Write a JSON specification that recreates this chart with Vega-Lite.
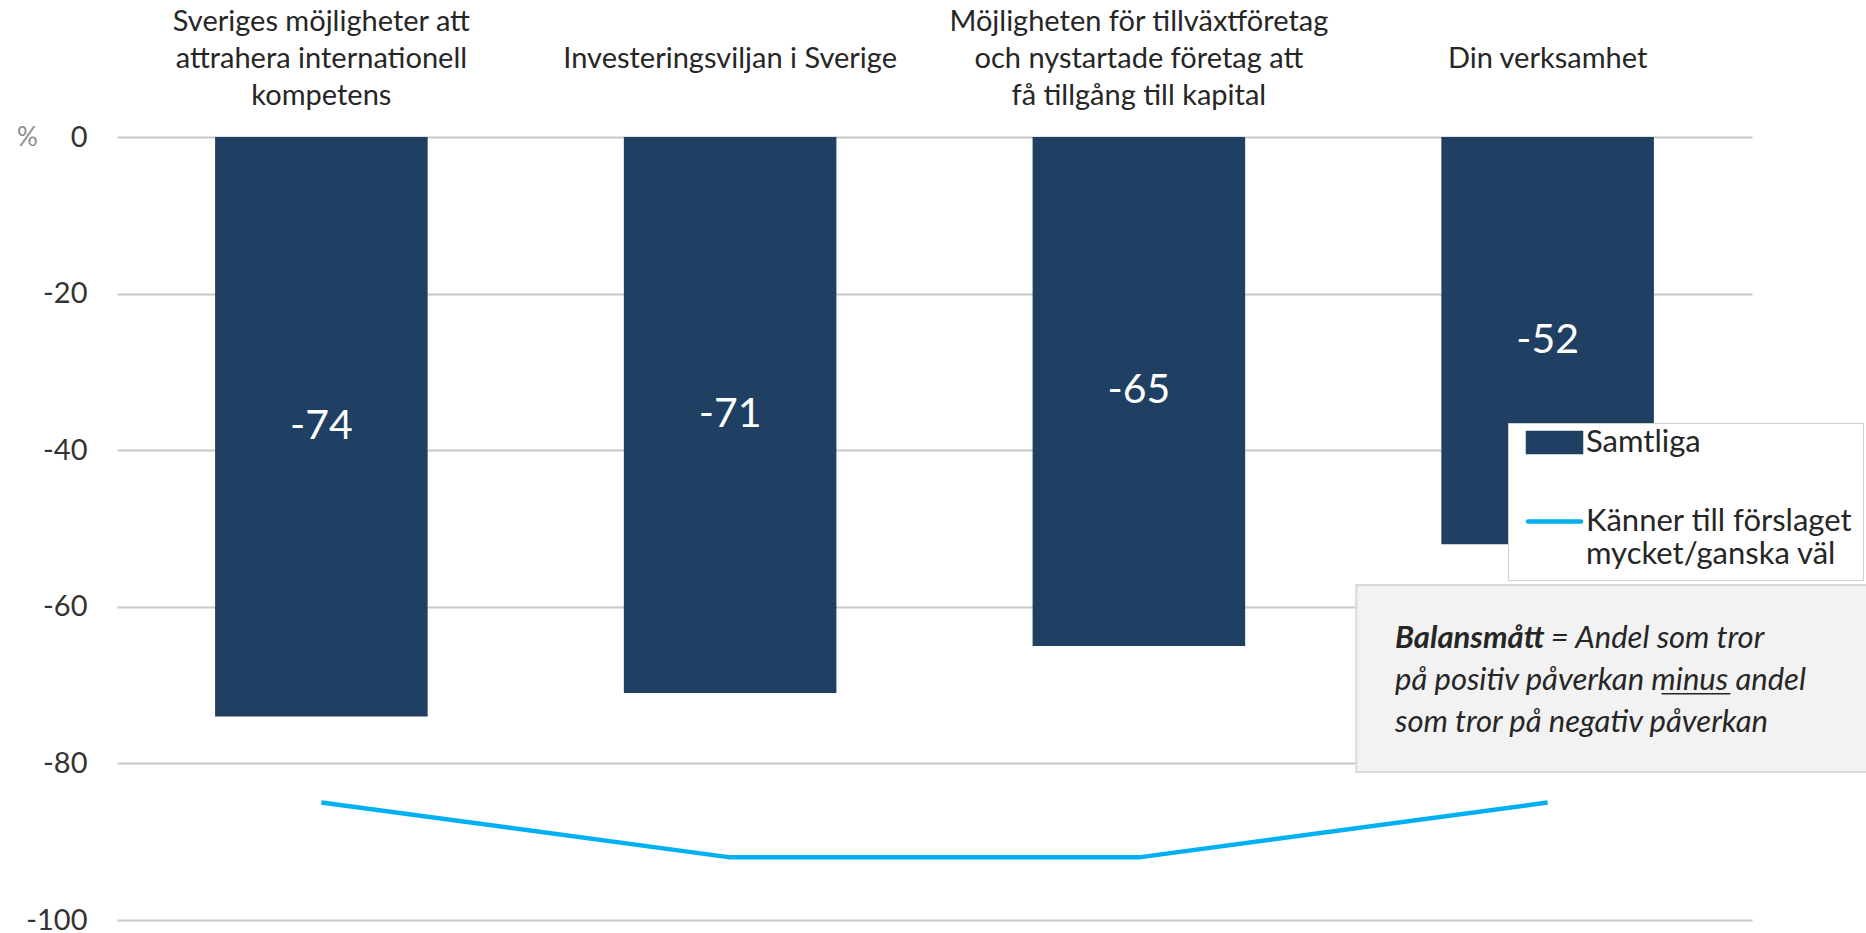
{
  "$schema": "https://vega.github.io/schema/vega-lite/v6.json",
  "width": 1635,
  "height": 783,
  "autosize": {"type": "none"},
  "padding": {"left": 117, "top": 137, "right": 114, "bottom": 13},
  "background": "white",
  "config": {"view": {"stroke": null}, "font": "Lato"},
  "data": {"values": [
    {"kategori": "Sveriges möjligheter att|attrahera internationell|kompetens", "Samtliga": -74, "Kanner": -85},
    {"kategori": "Investeringsviljan i Sverige", "Samtliga": -71, "Kanner": -92},
    {"kategori": "Möjligheten för tillväxtföretag|och nystartade företag att|få tillgång till kapital", "Samtliga": -65, "Kanner": -92},
    {"kategori": "Din verksamhet", "Samtliga": -52, "Kanner": -85}
  ]},
  "encoding": {
    "x": {
      "field": "kategori",
      "type": "nominal",
      "sort": null,
      "scale": {
        "domain": ["Sveriges möjligheter att|attrahera internationell|kompetens", "Investeringsviljan i Sverige", "Möjligheten för tillväxtföretag|och nystartade företag att|få tillgång till kapital", "Din verksamhet"],
        "paddingInner": 0.48,
        "paddingOuter": 0.24
      },
      "axis": {
        "orient": "top",
        "title": null,
        "labelAngle": 0,
        "labelExpr": "length(split(datum.value, '|')) == 1 ? ['', '', datum.value] : split(datum.value, '|')",
        "labelFont": "Lato",
        "labelFontSize": 29,
        "labelLineHeight": 37,
        "labelColor": "#262626",
        "labelPadding": 107,
        "labelBaseline": "alphabetic",
        "labelLimit": 0,
        "domain": false,
        "ticks": false,
        "tickSize": 0,
        "grid": false
      }
    }
  },
  "layer": [
    {
      "mark": {"type": "bar"},
      "encoding": {
        "y": {
          "field": "Samtliga",
          "type": "quantitative",
          "title": "%",
          "scale": {"domain": [-100, 0], "nice": false, "zero": false},
          "axis": {
            "values": [0, -20, -40, -60, -80, -100],
            "labelExpr": "replace(datum.label, '−', '-')",
            "grid": true,
            "gridColor": "#C8C8C8",
            "gridWidth": 2,
            "domain": false,
            "ticks": false,
            "tickSize": 0,
            "labelPadding": 30,
            "labelFont": "Lato",
            "labelFontSize": 29,
            "labelColor": "#333333",
            "labelFlush": false,
            "labelOverlap": false,
            "titleAngle": 0,
            "titleX": -90,
            "titleY": 0,
            "titleAlign": "center",
            "titleBaseline": "middle",
            "titleColor": "#8C8C8C",
            "titleFont": "Lato",
            "titleFontSize": 26,
            "titleFontWeight": "normal"
          }
        },
        "color": {
          "datum": "Samtliga",
          "type": "nominal",
          "scale": {
            "domain": ["Samtliga", "Känner till förslaget mycket/ganska väl"],
            "range": ["#1F3F63", "#00B0F0"]
          },
          "legend": {
            "orient": "none",
            "legendX": 1391,
            "legendY": 286,
            "title": null,
            "direction": "vertical",
            "fillColor": "white",
            "strokeColor": "#D0D0D0",
            "padding": 10,
            "symbolSize": 400,
            "labelFont": "Lato",
            "labelFontSize": 31,
            "labelColor": "#262626",
            "labelLimit": 0,
            "rowPadding": 43,
            "labelBaseline": "middle",
            "labelExpr": "datum.value == 'Samtliga' ? 'Samtliga' : ['Känner till förslaget', 'mycket/ganska väl']",
            "encode": {
              "symbols": {"update": {
                "x": {"value": 36.5},
                "y": {"value": 9.5},
                "shape": {"signal": "datum.value == 'Samtliga' ? 'M-1,-0.36H1V0.36H-1Z' : 'M-1,0H1'"},
                "fill": {"signal": "datum.value == 'Samtliga' ? '#1F3F63' : 'transparent'"},
                "stroke": {"signal": "datum.value == 'Samtliga' ? 'transparent' : '#00B0F0'"},
                "strokeWidth": {"value": 4.5},
                "strokeCap": {"value": "round"},
                "size": {"value": 2809},
                "opacity": {"value": 1}
              }},
              "labels": {"update": {
                "x": {"value": 68},
                "y": {"value": 9.5},
                "lineHeight": {"value": 33}
              }}
            }
          }
        }
      }
    },
    {
      "mark": {"type": "line", "strokeWidth": 4.5},
      "encoding": {
        "y": {"field": "Kanner", "type": "quantitative", "title": "%"},
        "color": {"datum": "Känner till förslaget mycket/ganska väl", "type": "nominal"}
      }
    },
    {
      "transform": [{"calculate": "datum.Samtliga / 2", "as": "mitt"}],
      "mark": {"type": "text", "color": "white", "font": "Lato", "fontSize": 41, "baseline": "middle"},
      "encoding": {
        "y": {"field": "mitt", "type": "quantitative", "title": "%"},
        "text": {"field": "Samtliga", "type": "nominal"}
      }
    },
    {
      "data": {"values": [{}]},
      "mark": {"type": "rect", "fill": "#F2F2F2", "stroke": "#D9D9D9", "strokeWidth": 2},
      "encoding": {
        "x": {"datum": "Din verksamhet", "bandPosition": -0.4},
        "x2": {"datum": "Din verksamhet", "bandPosition": 2.2},
        "y": {"datum": -57.2, "type": "quantitative", "title": "%"},
        "y2": {"datum": -81.1}
      }
    },
    {
      "data": {"values": [{}]},
      "mark": {"type": "text", "align": "left", "baseline": "alphabetic", "font": "Lato", "fontSize": 31, "fontStyle": "italic", "fontWeight": "bold", "color": "#262626", "text": "Balansmått"},
      "encoding": {
        "x": {"datum": "Din verksamhet", "bandPosition": -0.218},
        "y": {"datum": -65.3, "type": "quantitative", "title": "%"}
      }
    },
    {
      "data": {"values": [{}]},
      "mark": {"type": "text", "align": "left", "baseline": "alphabetic", "font": "Lato", "fontSize": 31, "fontStyle": "italic", "color": "#262626", "text": "= Andel som tror"},
      "encoding": {
        "x": {"datum": "Din verksamhet", "bandPosition": 0.515},
        "y": {"datum": -65.3, "type": "quantitative", "title": "%"}
      }
    },
    {
      "data": {"values": [{}]},
      "mark": {"type": "text", "align": "left", "baseline": "alphabetic", "font": "Lato", "fontSize": 31, "fontStyle": "italic", "color": "#262626", "text": "på positiv påverkan minus andel"},
      "encoding": {
        "x": {"datum": "Din verksamhet", "bandPosition": -0.218},
        "y": {"datum": -70.6, "type": "quantitative", "title": "%"}
      }
    },
    {
      "data": {"values": [{}]},
      "mark": {"type": "text", "align": "left", "baseline": "alphabetic", "font": "Lato", "fontSize": 31, "fontStyle": "italic", "color": "#262626", "text": "som tror på negativ påverkan"},
      "encoding": {
        "x": {"datum": "Din verksamhet", "bandPosition": -0.218},
        "y": {"datum": -76.0, "type": "quantitative", "title": "%"}
      }
    },
    {
      "data": {"values": [{}]},
      "mark": {"type": "rule", "color": "#262626", "strokeWidth": 1.5},
      "encoding": {
        "x": {"datum": "Din verksamhet", "bandPosition": 1.036},
        "x2": {"datum": "Din verksamhet", "bandPosition": 1.36},
        "y": {"datum": -71.1, "type": "quantitative", "title": "%"}
      }
    }
  ]
}
